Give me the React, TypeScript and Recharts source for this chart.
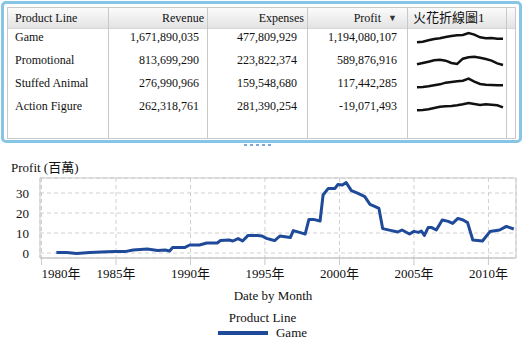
import {
  LineChart,
  Line,
  XAxis,
  YAxis,
  CartesianGrid,
  Legend,
  ReferenceArea,
  Label,
} from "recharts";

// table data
const productLines = ["Game", "Promotional", "Stuffed Animal", "Action Figure"];
const revenue = [1671890035, 813699290, 276990966, 262318761];
const expenses = [477809929, 223822374, 159548680, 281390254];
const profit = [1194080107, 589876916, 117442285, -19071493];

// sparkline values (relative heights)
const sparkGame = [2, 4, 8, 12, 14, 18, 21, 23, 24, 30, 25, 17, 14, 15, 13, 13];
const sparkPromotional = [5, 9, 13, 17, 19, 16, 9, 6, 22, 26, 28, 25, 21, 16, 8, 3];
const sparkStuffed = [5, 6, 8, 11, 14, 19, 21, 23, 25, 31, 22, 15, 13, 12, 11, 11];
const sparkAction = [5, 6, 8, 12, 16, 17, 18, 20, 23, 27, 24, 21, 23, 22, 20, 14];
const sparks = [sparkGame, sparkPromotional, sparkStuffed, sparkAction];

// Game profit by month (in millions)
const profitDates = [
  1981.0, 1981.7, 1982.35, 1983.25, 1984.0, 1984.9, 1985.6, 1986.15, 1987.1, 1987.8,
  1988.3, 1988.6, 1988.8, 1989.6, 1989.95, 1990.6, 1991.1, 1991.8, 1992.0, 1992.6,
  1992.85, 1993.2, 1993.5, 1993.85, 1994.5, 1994.8, 1995.1, 1995.5, 1995.65, 1996.0,
  1996.7, 1996.9, 1997.55, 1997.7, 1997.95, 1998.25, 1998.7, 1998.9, 1999.25, 1999.7,
  1999.9, 2000.2, 2000.45, 2000.8, 2001.25, 2001.7, 2002.05, 2002.4, 2002.65, 2002.9,
  2003.5, 2003.9, 2004.2, 2004.7, 2005.0, 2005.3, 2005.5, 2005.7, 2005.95, 2006.2,
  2006.5, 2006.9, 2007.3, 2007.6, 2007.95, 2008.3, 2008.6, 2008.95, 2009.6, 2010.1,
  2010.75, 2011.2, 2011.7,
];
const profitValues = [
  0.2, 0.3, -0.3, 0.3, 0.5, 0.7, 0.7, 1.5, 2.0, 1.3,
  1.5, 1.0, 2.7, 2.7, 4.0, 4.0, 5.0, 5.0, 6.2, 6.5,
  6.0, 7.2, 6.0, 8.7, 8.7, 8.5, 7.3, 6.5, 6.2, 8.5,
  7.7, 11.2, 9.8, 9.5, 16.8, 16.8, 16.0, 29.0, 32.3, 32.3,
  34.3, 34.0, 35.2, 31.2, 29.8, 28.2, 24.3, 23.2, 22.3, 12.2,
  11.2, 10.5, 11.5, 9.5, 10.8, 10.3, 11.0, 8.8, 12.7, 12.7,
  11.5, 16.5, 15.8, 14.8, 17.3, 16.5, 15.2, 6.5, 6.0, 10.7,
  11.5, 13.3, 12.0,
];
const yearTicks = [1980, 1985, 1990, 1995, 2000, 2005, 2010];
const profitTicks = [0, 10, 20, 30];

const chartData = profitDates.map((d, i) => ({ date: d, profit: profitValues[i] }));

const FONT = '"Liberation Serif", "Noto Sans CJK TC", serif';
const GRID = "#c9c9c9";
const BLUE = "#1f4a99";

const fmt = (n: number) => n.toLocaleString("en-US");

const Spark = ({ values }: { values: number[] }) => (
  <LineChart
    width={90}
    height={16}
    data={values.map((v, i) => ({ i, v }))}
    margin={{ top: 2, right: 2, bottom: 2, left: 2 }}
  >
    <XAxis dataKey="i" type="number" domain={[0, values.length - 1]} hide />
    <YAxis domain={[0, 36]} hide />
    <Line
      dataKey="v"
      stroke="#111"
      strokeWidth={2.5}
      dot={false}
      isAnimationActive={false}
    />
  </LineChart>
);

// first year label starts at its tick so it isn't cut off, the rest are centred
const YearTick = (props: any) => {
  const { x, y, payload, index } = props;
  return (
    <text
      x={x}
      y={y}
      dy="0.71em"
      textAnchor={index === 0 ? "start" : "middle"}
      fill="#111"
      fontSize={13}
    >
      {`${payload.value}年`}
    </text>
  );
};

const abs = (left: number, top: number, extra: React.CSSProperties = {}) =>
  ({ position: "absolute", left, top, ...extra } as React.CSSProperties);

const colLines = [108, 207, 307, 407, 506];

const LegendBox = (props: any) => {
  const item = props.payload && props.payload[0];
  return (
    <div style={{ width: 525, height: 40, fontSize: 13, color: "#111", fontFamily: FONT }}>
      <div style={{ paddingTop: 10, lineHeight: "14px", textAlign: "center" }}>
        Product Line
      </div>
      <div
        style={{
          display: "flex",
          justifyContent: "center",
          alignItems: "center",
          height: 16,
        }}
      >
        <span
          style={{
            display: "inline-block",
            width: 50,
            height: 4,
            background: item ? item.color : BLUE,
          }}
        />
        <span style={{ marginLeft: 8 }}>{item ? item.value : "Game"}</span>
      </div>
    </div>
  );
};

export default function App() {
  return (
    <div
      style={{
        position: "absolute",
        left: 0,
        top: 0,
        width: 525,
        height: 341,
        background: "#fff",
        fontFamily: FONT,
        color: "#111",
        overflow: "hidden",
      }}
    >
      {/* table panel */}
      <div
        style={abs(1, 1, {
          width: 521,
          height: 142,
          boxSizing: "border-box",
          border: "3px solid #86c5e6",
          borderRadius: 5,
        })}
      />
      <div
        style={abs(7, 7, {
          width: 509,
          height: 132,
          boxSizing: "border-box",
          border: `1px solid ${GRID}`,
        })}
      />
      <div
        style={abs(8, 8, {
          width: 507,
          height: 20,
          background: "linear-gradient(#fbfbfb, #e3e3e3)",
          borderBottom: "1px solid #d6d6d6",
        })}
      />
      {colLines.map((x) => (
        <div key={x} style={abs(x, 8, { width: 1, height: 130, background: GRID })} />
      ))}

      <div style={{ fontSize: 12, lineHeight: "14px" }}>
        <div style={abs(15, 11)}>Product Line</div>
        <div style={abs(108, 11, { width: 96, textAlign: "right" })}>Revenue</div>
        <div style={abs(207, 11, { width: 97, textAlign: "right" })}>Expenses</div>
        <div style={abs(307, 11, { width: 74, textAlign: "right" })}>Profit</div>
        <div style={abs(388, 11, { fontSize: 9, color: "#333" })}>▼</div>
        <div style={abs(413, 11, { fontSize: 13 })}>火花折線圖1</div>

        {productLines.map((name, i) => {
          const top = 28 + i * 23;
          return (
            <div key={name}>
              <div style={abs(15, top + 2)}>{name}</div>
              <div style={abs(108, top + 2, { width: 91, textAlign: "right" })}>
                {fmt(revenue[i])}
              </div>
              <div style={abs(207, top + 2, { width: 90, textAlign: "right" })}>
                {fmt(expenses[i])}
              </div>
              <div style={abs(307, top + 2, { width: 90, textAlign: "right" })}>
                {fmt(profit[i])}
              </div>
              <div style={abs(415, top + 1)}>
                <Spark values={sparks[i]} />
              </div>
            </div>
          );
        })}
      </div>

      {/* splitter handle */}
      <div style={abs(244, 144, { display: "flex", gap: 3 })}>
        {[0, 1, 2, 3, 4].map((k) => (
          <span
            key={k}
            style={{ width: 3, height: 2, background: "#7ea6d8", display: "block" }}
          />
        ))}
      </div>

      {/* chart */}
      <div style={abs(11, 161, { fontSize: 13, lineHeight: "14px" })}>Profit (百萬)</div>
      <div style={abs(0, 150)}>
        <LineChart
          width={525}
          height={191}
          data={chartData}
          margin={{ top: 28, right: 9, bottom: 0, left: 0 }}
        >
          <CartesianGrid stroke="#d0d0d0" strokeDasharray="4 3" />
          <XAxis
            dataKey="date"
            type="number"
            domain={[1979.9, 2011.85]}
            allowDataOverflow
            ticks={yearTicks}
            interval={0}
            tick={YearTick}
            tickSize={7}
            tickMargin={4}
            tickLine={{ stroke: GRID }}
            axisLine={{ stroke: GRID }}
            height={43}
          >
            <Label
              value="Date by Month"
              position="insideBottom"
              offset={1}
              dx={-5}
              fill="#111"
              fontSize={13}
            />
          </XAxis>
          <YAxis
            domain={[-2.5, 37.5]}
            allowDataOverflow
            ticks={profitTicks}
            interval={0}
            axisLine={false}
            tickLine={false}
            tickSize={0}
            tickMargin={11}
            width={40}
            tick={{ fill: "#111", fontSize: 13 }}
          />
          <ReferenceArea
            x1={1979.9}
            x2={2011.85}
            y1={-2.5}
            y2={37.5}
            fill="none"
            stroke={GRID}
            strokeWidth={1}
          />
          <Legend
            verticalAlign="bottom"
            content={LegendBox}
            wrapperStyle={{ left: 0, width: 525 }}
          />
          <Line
            dataKey="profit"
            name="Game"
            stroke={BLUE}
            strokeWidth={3}
            strokeLinejoin="round"
            dot={false}
            isAnimationActive={false}
          />
        </LineChart>
      </div>
    </div>
  );
}
